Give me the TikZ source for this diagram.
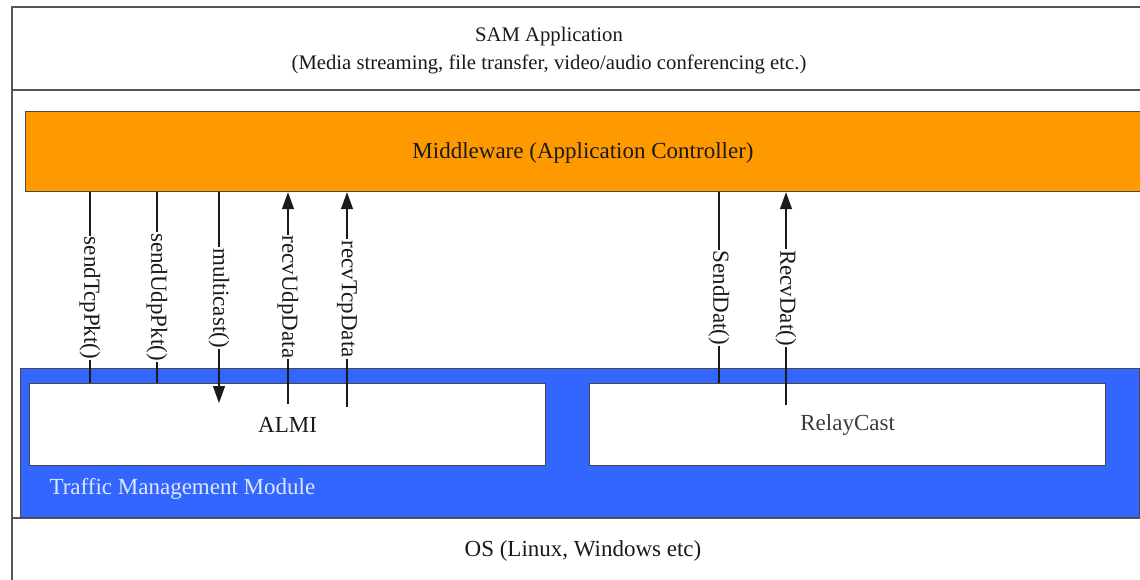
\documentclass[tikz,border=0pt]{standalone}
\usepackage{fontspec}
\setmainfont{Liberation Serif}
\usetikzlibrary{arrows.meta}
\definecolor{mworange}{HTML}{FF9900}
\definecolor{tmblue}{HTML}{3366FF}
\definecolor{frame}{HTML}{555555}
\definecolor{ink}{HTML}{1A1A1A}
\definecolor{paletext}{HTML}{DDE6FF}
\begin{document}
\begin{tikzpicture}[x=1pt,y=-1pt,
  every node/.style={font=\fontsize{23}{27}\selectfont, text=ink},
  layer/.style={draw=frame, line width=1.4pt},
  boxed/.style={draw=ink!80, line width=1.2pt, inner sep=0pt, anchor=north west},
  call/.style={draw=ink, line width=1.3pt},
  callarrow/.style={call, -{Triangle[length=17pt,width=12pt]}},
  lbl/.style={rotate=-90, fill=white, inner sep=1pt, font=\fontsize{23}{27}\selectfont}
]
\useasboundingbox (0,0) rectangle (1140,580);
\fill[white] (0,0) rectangle (1140,580);

% outer layer frame (right side runs off the page)
\draw[layer] (1140,7) -- (12,7) -- (12,580);
\draw[layer] (12,90) -- (1140,90);
\draw[layer] (12,518) -- (1140,518);

% application layer
\node (sam) at (549,51) [align=center, font=\fontsize{20.7}{28}\selectfont]
  {SAM Application\\(Media streaming, file transfer, video/audio conferencing etc.)};

% middleware
\node (mw) [boxed, fill=mworange, minimum width=1116pt, minimum height=80pt] at (25,111) {};
\node at (583,153) {Middleware (Application Controller)};

% traffic management module
\node (tmm) [boxed, fill=tmblue, minimum width=1119pt, minimum height=149pt] at (20,368) {};
\node (almi) [boxed, fill=white, minimum width=516pt, minimum height=82pt] at (29,383) {};
\node (relay) [boxed, fill=white, minimum width=516pt, minimum height=82pt] at (589,383) {};
\node at (almi.center) {ALMI};
\node [text=ink!85] at (relay.center) {RelayCast};
\node [anchor=west, text=paletext] at (46,489) {Traffic Management Module};

% operating system
\node (os) at (583,551) {OS (Linux, Windows etc)};

% calls between middleware and the transport modules
\coordinate (mcTip) at (219,403);
\coordinate (ruStart) at (288,404);
\coordinate (rtStart) at (347,407);
\coordinate (rdStart) at (786,405);

\draw[call] (mw.south -| 90,0) -- (almi.north -| 90,0);
\draw[call] (mw.south -| 157,0) -- (almi.north -| 157,0);
\draw[callarrow] (mw.south -| mcTip) -- (mcTip);
\draw[callarrow] (ruStart) -- (mw.south -| ruStart);
\draw[callarrow] (rtStart) -- (mw.south -| rtStart);
\draw[call] (mw.south -| 719,0) -- (relay.north -| 719,0);
\draw[callarrow] (rdStart) -- (mw.south -| rdStart);

\node[lbl] (l1) at (90,298) {sendTcpPkt()};
\node[lbl] (l2) at (157,297) {sendUdpPkt()};
\node[lbl] (l3) at (219,298) {multicast()};
\node[lbl] (l4) at (288,297) {recvUdpData};
\node[lbl] (l5) at (347,299) {recvTcpData};
\node[lbl] (l6) at (719,298) {SendDat()};
\node[lbl] (l7) at (786,298) {RecvDat()};
\end{tikzpicture}
\end{document}
